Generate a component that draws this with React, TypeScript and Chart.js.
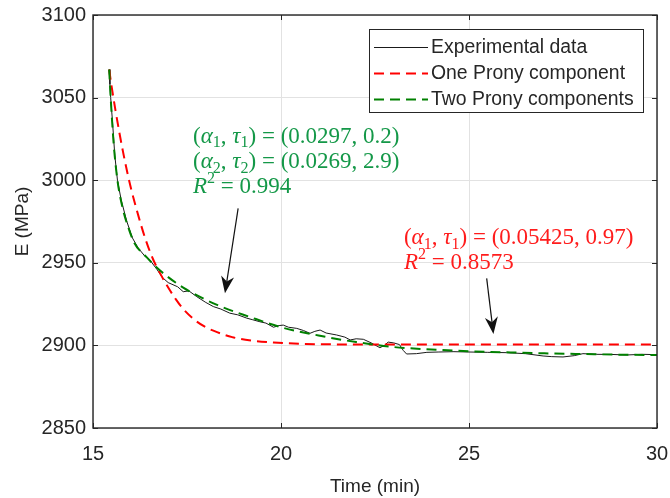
import React, { useEffect, useRef } from 'react';
import { Chart, registerables } from 'chart.js';

Chart.register(...registerables);

// ---------- data ----------
const expTime = [
  15.43, 15.45, 15.47, 15.52, 15.58, 15.65, 15.75, 15.9, 16.05, 16.2, 16.38, 16.52, 16.7, 16.85,
  17.0, 17.1, 17.25, 17.4, 17.55, 17.76, 18.0, 18.2, 18.4, 18.64, 18.85, 19.09, 19.25, 19.44,
  19.6, 19.8, 19.95, 20.06, 20.2, 20.42, 20.6, 20.77, 20.9, 21.04, 21.2, 21.48, 21.7, 21.84,
  22.0, 22.19, 22.4, 22.63, 22.75, 22.85, 23.0, 23.15, 23.25, 23.34, 23.6, 23.88, 24.2, 24.6,
  25.0, 25.5, 26.0, 26.5, 26.97, 27.2, 27.5, 27.8, 28.03, 28.4, 28.83, 29.2, 29.6, 30.0,
];
const expModulus = [
  3067, 3058, 3050, 3035, 3015, 3000, 2988, 2975, 2965, 2959, 2954, 2951.5, 2946, 2941,
  2938, 2937, 2935.5, 2932.5, 2933, 2929.5, 2926, 2923.5, 2922, 2919.5, 2918.5, 2916.5, 2915.5, 2914.3,
  2913.5, 2911, 2912, 2912.3, 2911, 2910.3, 2909, 2907.3, 2908.5, 2909.3, 2907.5, 2906.3, 2905, 2903.3,
  2904, 2903.7, 2901.5, 2898.6, 2900, 2902, 2901.5, 2900.5, 2897, 2894.8, 2895, 2895.8, 2896, 2896.2,
  2896, 2895.8, 2895.6, 2895, 2893.6, 2893.2, 2893, 2893.8, 2895, 2894.6, 2894.5, 2894.2, 2894.6, 2894.4,
];

const oneTime = [
  15.43, 15.5, 15.6, 15.7, 15.8, 15.9, 16.0, 16.2, 16.4, 16.6, 16.8, 17.0, 17.2, 17.4, 17.7,
  18.0, 18.3, 18.7, 19.2, 19.8, 20.5, 21.5, 23.0, 30.0,
];
const oneModulus = [
  3067, 3056, 3042, 3029, 3017, 3006, 2996, 2979, 2964, 2952, 2943, 2935, 2928, 2922, 2915.5,
  2911, 2908, 2905, 2903, 2901.8, 2901, 2900.6, 2900.5, 2900.5,
];

const twoTime = [
  15.43, 15.47, 15.55, 15.65, 15.8, 15.93, 16.1, 16.4, 16.8, 17.4, 18.3, 19.2, 20.0, 21.0,
  22.0, 23.0, 24.0, 25.0, 26.0, 27.0, 28.0, 29.0, 30.0,
];
const twoModulus = [
  3067, 3050, 3022, 3000, 2982, 2972, 2962, 2954, 2945, 2935, 2924.5, 2917, 2911, 2906,
  2902, 2899, 2897.5, 2896.5, 2895.8, 2895.2, 2894.8, 2894.4, 2894.2,
];

const xTicks = [15, 20, 25, 30];
const yTicks = [2850, 2900, 2950, 3000, 3050, 3100];

const seriesLabels = ['Experimental data', 'One Prony component', 'Two Prony components'];

const SANS = '"Liberation Sans", Arial, Helvetica, sans-serif';
const SERIF = '"Liberation Serif", "Times New Roman", serif';
const INK = '#262626';
const GREEN_TEXT = 'rgb(20,152,72)';
const RED_TEXT = '#ff1c1c';

type Seg = { s: string; it?: boolean; sub?: boolean; sup?: boolean };

const greenNote: Seg[][] = [
  [{ s: '(' }, { s: 'α', it: true }, { s: '1', sub: true }, { s: ', ' }, { s: 'τ', it: true }, { s: '1', sub: true }, { s: ') = (0.0297, 0.2)' }],
  [{ s: '(' }, { s: 'α', it: true }, { s: '2', sub: true }, { s: ', ' }, { s: 'τ', it: true }, { s: '2', sub: true }, { s: ') = (0.0269, 2.9)' }],
  [{ s: 'R', it: true }, { s: '2', sup: true }, { s: ' = 0.994' }],
];
const redNote: Seg[][] = [
  [{ s: '(' }, { s: 'α', it: true }, { s: '1', sub: true }, { s: ', ' }, { s: 'τ', it: true }, { s: '1', sub: true }, { s: ') = (0.05425, 0.97)' }],
  [{ s: 'R', it: true }, { s: '2', sup: true }, { s: ' = 0.8573' }],
];
// note anchors (time, modulus of each text baseline)
const greenNoteX = 17.66;
const greenNoteY = [3022.8, 3007.1, 2992.3];
const redNoteX = 23.27;
const redNoteY = [2961.4, 2946.4];
// arrows: [fromX, fromY, toX, toY]
const arrows = [
  [18.86, 2983, 18.51, 2931.5],
  [25.47, 2940.6, 25.65, 2906.9],
];

function drawRich(ctx: CanvasRenderingContext2D, x: number, y: number, segs: Seg[], size: number, color: string) {
  ctx.save();
  ctx.fillStyle = color;
  ctx.textBaseline = 'alphabetic';
  ctx.textAlign = 'left';
  for (const g of segs) {
    const small = g.sub || g.sup;
    const fs = small ? size * 0.7 : size;
    ctx.font = `${g.it ? 'italic ' : ''}${fs}px ${SERIF}`;
    const dy = g.sub ? size * 0.2 : g.sup ? -size * 0.42 : 0;
    ctx.fillText(g.s, x, y + dy);
    x += ctx.measureText(g.s).width;
  }
  ctx.restore();
}

const overlay = {
  id: 'overlay',
  afterDraw(chart: any) {
    const { ctx, chartArea: a, scales } = chart;
    const xs = scales.x;
    const ys = scales.y;
    ctx.save();
    // inward ticks on all four sides
    ctx.strokeStyle = INK;
    ctx.lineWidth = 1;
    const tl = 5;
    for (const v of xTicks) {
      const px = Math.round(xs.getPixelForValue(v)) + 0.5;
      ctx.beginPath();
      ctx.moveTo(px, a.bottom);
      ctx.lineTo(px, a.bottom - tl);
      ctx.moveTo(px, a.top);
      ctx.lineTo(px, a.top + tl);
      ctx.stroke();
    }
    for (const v of yTicks) {
      const py = Math.round(ys.getPixelForValue(v)) + 0.5;
      ctx.beginPath();
      ctx.moveTo(a.left, py);
      ctx.lineTo(a.left + tl, py);
      ctx.moveTo(a.right, py);
      ctx.lineTo(a.right - tl, py);
      ctx.stroke();
    }
    // axes box
    ctx.lineWidth = 1.4;
    ctx.strokeRect(a.left, a.top, a.right - a.left, a.bottom - a.top);

    // annotations
    greenNote.forEach((line, i) => {
      drawRich(ctx, xs.getPixelForValue(greenNoteX), ys.getPixelForValue(greenNoteY[i]), line, 23, GREEN_TEXT);
    });
    redNote.forEach((line, i) => {
      drawRich(ctx, xs.getPixelForValue(redNoteX), ys.getPixelForValue(redNoteY[i]), line, 23, RED_TEXT);
    });

    // arrows
    for (const [x0, y0, x1, y1] of arrows) {
      const sx = xs.getPixelForValue(x0);
      const sy = ys.getPixelForValue(y0);
      const ex = xs.getPixelForValue(x1);
      const ey = ys.getPixelForValue(y1);
      const ang = Math.atan2(ey - sy, ex - sx);
      const hl = 17;
      const hw = 6.5;
      const bx = ex - hl * Math.cos(ang);
      const by = ey - hl * Math.sin(ang);
      const nx = ex - hl * 0.7 * Math.cos(ang);
      const ny = ey - hl * 0.7 * Math.sin(ang);
      ctx.strokeStyle = '#111';
      ctx.lineWidth = 1.2;
      ctx.beginPath();
      ctx.moveTo(sx, sy);
      ctx.lineTo(nx, ny);
      ctx.stroke();
      ctx.fillStyle = '#111';
      ctx.beginPath();
      ctx.moveTo(ex, ey);
      ctx.lineTo(bx - hw * Math.sin(ang), by + hw * Math.cos(ang));
      ctx.lineTo(nx, ny);
      ctx.lineTo(bx + hw * Math.sin(ang), by - hw * Math.cos(ang));
      ctx.closePath();
      ctx.fill();
    }

    // legend box
    const lx = 369, ly = 29, lw = 274, lh = 83;
    ctx.fillStyle = '#fff';
    ctx.fillRect(lx, ly, lw, lh);
    ctx.strokeStyle = INK;
    ctx.lineWidth = 1;
    ctx.strokeRect(lx + 0.5, ly + 0.5, lw, lh);
    chart.data.datasets.forEach((ds: any, i: number) => {
      const cy = 47 + i * 26;
      ctx.save();
      ctx.strokeStyle = ds.borderColor;
      ctx.lineWidth = ds.borderWidth;
      ctx.setLineDash(ds.borderDash || []);
      ctx.beginPath();
      ctx.moveTo(374, cy + 0.5);
      ctx.lineTo(428, cy + 0.5);
      ctx.stroke();
      ctx.restore();
      ctx.fillStyle = INK;
      ctx.font = `19.4px ${SANS}`;
      ctx.textBaseline = 'middle';
      ctx.textAlign = 'left';
      ctx.fillText(ds.label, 431, cy + 1);
    });
    ctx.restore();
  },
};

export default function App() {
  const ref = useRef<HTMLCanvasElement | null>(null);
  useEffect(() => {
    document.body.style.margin = '0';
    const canvas = ref.current;
    if (!canvas) return;
    const toPts = (xs: number[], ys: number[]) => xs.map((x, i) => ({ x, y: ys[i] }));
    const chart = new Chart(canvas, {
      type: 'line',
      data: {
        datasets: [
          {
            label: seriesLabels[0],
            data: toPts(expTime, expModulus),
            borderColor: '#1a1a1a',
            borderWidth: 1,
            pointRadius: 0,
            tension: 0,
            order: 3,
          },
          {
            label: seriesLabels[1],
            data: toPts(oneTime, oneModulus),
            borderColor: '#ff0000',
            borderWidth: 2,
            borderDash: [10, 6],
            pointRadius: 0,
            cubicInterpolationMode: 'monotone',
            order: 2,
          },
          {
            label: seriesLabels[2],
            data: toPts(twoTime, twoModulus),
            borderColor: '#008000',
            borderWidth: 2,
            borderDash: [10, 6],
            pointRadius: 0,
            cubicInterpolationMode: 'monotone',
            order: 1,
          },
        ],
      },
      options: {
        animation: false,
        responsive: false,
        devicePixelRatio: 1,
        layout: { padding: { left: 0, right: 13, top: 15, bottom: 0 } },
        plugins: { legend: { display: false }, tooltip: { enabled: false } },
        scales: {
          x: {
            type: 'linear',
            min: 15,
            max: 30,
            afterBuildTicks: (s: any) => {
              s.ticks = xTicks.map((v) => ({ value: v }));
            },
            afterFit: (s: any) => {
              s.height = 70;
              s.paddingLeft = 0;
              s.paddingRight = 0;
            },
            grid: { color: '#e2e2e2', drawTicks: false },
            border: { display: false },
            ticks: {
              font: { family: SANS, size: 20 },
              color: INK,
              padding: 14,
              maxRotation: 0,
              callback: (v: any) => String(v),
            },
            title: {
              display: true,
              text: 'Time (min)',
              font: { family: SANS, size: 19 },
              color: INK,
              padding: { top: 2, bottom: 0 },
            },
          },
          y: {
            type: 'linear',
            min: 2850,
            max: 3100,
            afterBuildTicks: (s: any) => {
              s.ticks = yTicks.map((v) => ({ value: v }));
            },
            afterFit: (s: any) => {
              s.width = 93;
              s.paddingTop = 0;
              s.paddingBottom = 0;
            },
            grid: { color: '#e2e2e2', drawTicks: false },
            border: { display: false },
            ticks: {
              font: { family: SANS, size: 20 },
              color: INK,
              padding: 7,
              callback: (v: any) => String(v),
            },
            title: {
              display: true,
              text: 'E (MPa)',
              font: { family: SANS, size: 19 },
              color: INK,
              padding: { top: 11.5, bottom: 0 },
            },
          },
        },
      },
      plugins: [overlay],
    } as any);
    return () => chart.destroy();
  }, []);
  return (
    <div style={{ width: 670, height: 498, position: 'relative', background: '#fff' }}>
      <canvas ref={ref} width={670} height={498} style={{ width: 670, height: 498, display: 'block' }} />
    </div>
  );
}
